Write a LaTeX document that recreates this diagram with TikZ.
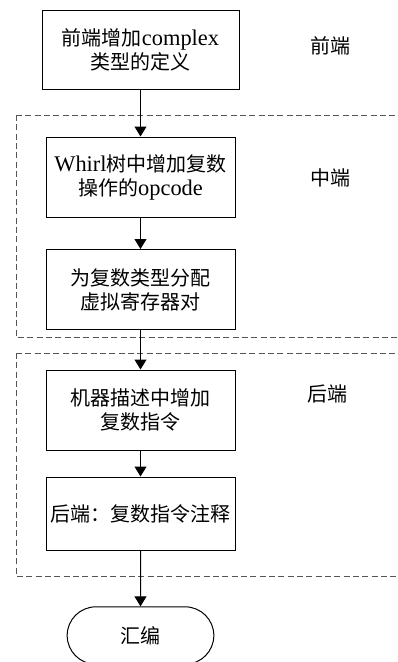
\documentclass[tikz,border=0pt]{standalone}
\usepackage{fontspec}
\setmainfont{Liberation Serif}[Scale=1.12]
\newfontfamily\cjk{Noto Sans CJK SC}
\usetikzlibrary{arrows.meta,shapes.misc}

\tikzset{
  stagebox/.style={draw, line width=0.75pt, align=center, inner sep=0pt,
    minimum width=141.75pt, minimum height=60pt, font=\fontsize{15}{18}\selectfont},
  phase/.style={draw={rgb,255:red,85;green,85;blue,85}, line width=0.75pt, dash pattern=on 4.5pt off 2.5pt},
  flow/.style={line width=0.75pt, -{Triangle[width=9pt,length=7.5pt]}},
  tag/.style={inner sep=0pt, font=\fontsize{15}{18}\selectfont\cjk}
}

\begin{document}
\begin{tikzpicture}[x=0.75pt,y=0.75pt,yscale=-1,xscale=1]
\useasboundingbox (0,0) rectangle (398,662);

%Shape: Dashed Rectangle (middle end)
\draw [phase] (16,115) -- (405,115) (16,115) -- (16,337) -- (405,337) ;
%Shape: Dashed Rectangle (back end)
\draw [phase] (16,353) -- (405,353) (16,353) -- (16,576) -- (405,576) ;

%Shape: Rectangle
\node (front) [stagebox, minimum width=147.75pt, minimum height=59.25pt] at (140.5,49.5)
  {{\cjk 前端增加}complex\\{\cjk 类型的定义}};
%Shape: Rectangle
\node (whirl) [stagebox] at (140.5,177) {Whirl{\cjk 树中增加复数}\\{\cjk 操作的}opcode};
%Shape: Rectangle
\node (vreg) [stagebox] at (140.5,289.5) {{\cjk 为复数类型分配}\\{\cjk 虚拟寄存器对}};
%Shape: Rectangle
\node (mdesc) [stagebox] at (140.5,410) {{\cjk 机器描述中增加}\\{\cjk 复数指令}};
%Shape: Rectangle
\node (annot) [stagebox, minimum height=54.75pt] at (140.5,513.5) {{\cjk 后端：复数指令注释}};
%Shape: Terminal
\node (asm) [draw, line width=0.75pt, rounded rectangle, inner sep=0pt, minimum width=110pt,
  minimum height=43pt, font=\fontsize{15}{18}\selectfont\cjk] at (140.5,635.5) {汇编};

%Straight Lines
\draw [flow] (front) -- (whirl) ;
\draw [flow] (whirl) -- (vreg) ;
\draw [flow] (vreg) -- (mdesc) ;
\draw [flow] (mdesc) -- (annot) ;
\draw [flow] (annot) -- (asm) ;

% Text Node
\node (lfront) [tag] at (330,46) {前端};
% Text Node
\node (lmid) [tag] at (330,178) {中端};
% Text Node
\node (lback) [tag] at (327,394) {后端};

\end{tikzpicture}
\end{document}
